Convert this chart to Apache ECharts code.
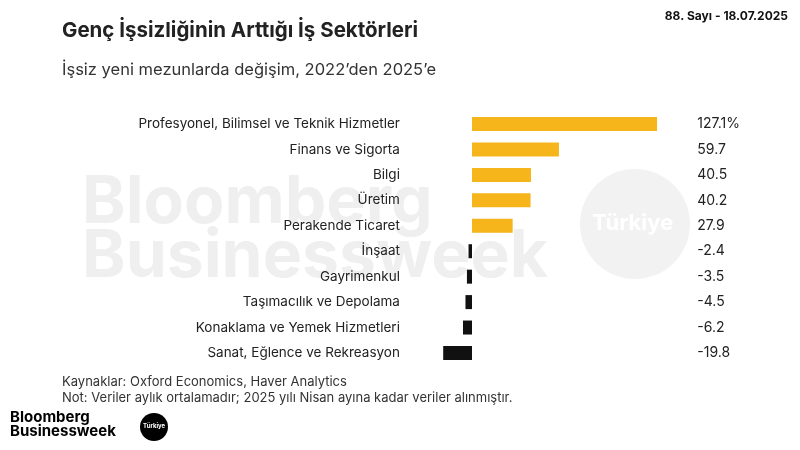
<!DOCTYPE html>
<html><head><meta charset="utf-8">
<script src="https://cdn.jsdelivr.net/npm/echarts@6/dist/echarts.min.js"></script>
<style>html,body{margin:0;padding:0;background:#fff}#c{width:800px;height:450px}</style>
</head><body><div id="c"></div>
<script>
const categories = ["Profesyonel, Bilimsel ve Teknik Hizmetler","Finans ve Sigorta","Bilgi","Üretim","Perakende Ticaret","İnşaat","Gayrimenkul","Taşımacılık ve Depolama","Konaklama ve Yemek Hizmetleri","Sanat, Eğlence ve Rekreasyon"];
const values = [127.1,59.7,40.5,40.2,27.9,-2.4,-3.5,-4.5,-6.2,-19.8];
const valueLabels = ["127.1%","59.7","40.5","40.2","27.9","-2.4","-3.5","-4.5","-6.2","-19.8"];
const chart = echarts.init(document.getElementById('c'));
const F = 'Inter, "Noto Sans", sans-serif';
chart.setOption({
  animation:false,
  grid:{left:442.9,right:138.7,top:111.3,bottom:84.3},
  xAxis:{type:'value',min:-20,max:130,show:false},
  yAxis:[
    {type:'category',data:categories,inverse:true,axisLine:{show:false},axisTick:{show:false},
     axisLabel:{margin:43,color:'#222',fontSize:13.5,fontFamily:F}},
    {type:'category',data:valueLabels,inverse:true,position:'right',axisLine:{show:false},axisTick:{show:false},
     axisLabel:{margin:36,color:'#222',fontSize:14,fontFamily:F,align:'left'}}
  ],
  graphic:[
    {type:'text',left:82,top:170,z:-1,style:{text:'Bloomberg\nBusinessweek',fill:'#efefef',font:'bold 66px '+F,lineHeight:54}},
    {type:'circle',shape:{cx:635,cy:224,r:55},style:{fill:'#f2f2f2'},z:-1},
    {type:'text',left:592,top:212,z:-1,style:{text:'Türkiye',fill:'#fff',font:'bold 22px '+F}},
    {type:'text',left:62,top:20,style:{text:'Genç İşsizliğinin Arttığı İş Sektörleri',fill:'#222',font:'bold 20.5px '+F}},
    {type:'text',left:62,top:62,style:{text:'İşsiz yeni mezunlarda değişim, 2022’den 2025’e',fill:'#333',font:'16.5px '+F}},
    {type:'text',right:12,top:10,style:{text:'88. Sayı - 18.07.2025',fill:'#111',font:'bold 12px '+F}},
    {type:'text',left:62,top:374,style:{text:'Kaynaklar: Oxford Economics, Haver Analytics\nNot: Veriler aylık ortalamadır; 2025 yılı Nisan ayına kadar veriler alınmıştır.',fill:'#333',font:'13px '+F,lineHeight:16}},
    {type:'text',left:10,top:410,style:{text:'Bloomberg\nBusinessweek',fill:'#000',font:'bold 15px '+F,lineHeight:14}},
    {type:'circle',shape:{cx:154,cy:427,r:14},style:{fill:'#000'}},
    {type:'text',left:143,top:423,style:{text:'Türkiye',fill:'#fff',font:'bold 6px '+F}}
  ],
  series:[{type:'bar',data:values.map(v=>({value:v,itemStyle:{color:v>=0?'#f5b51b':'#111'}})),barWidth:14}]
});
</script></body></html>
